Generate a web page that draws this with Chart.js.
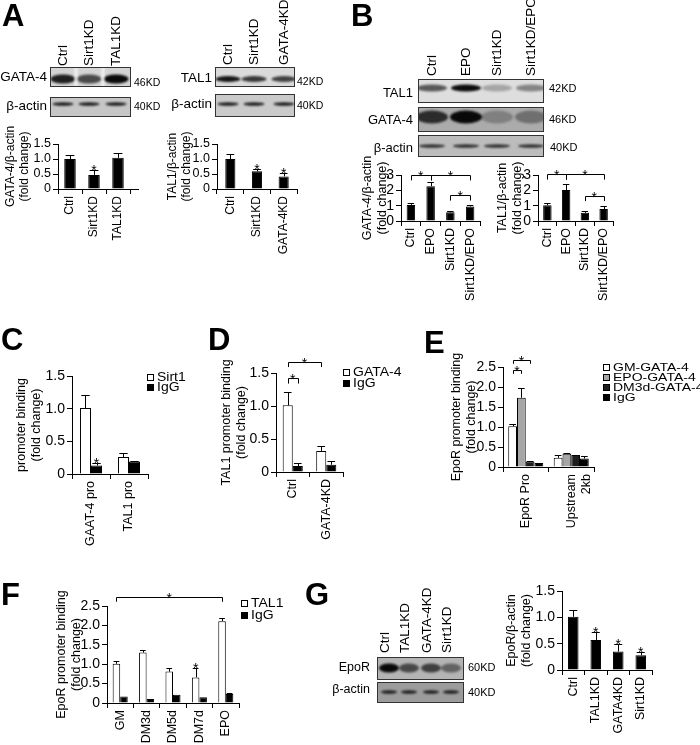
<!DOCTYPE html>
<html>
<head>
<meta charset="utf-8">
<script src="https://cdn.jsdelivr.net/npm/chart.js@4.4.0/dist/chart.umd.min.js"></script>
<style>
  body { margin: 0; background: #fff; }
  #fig { position: relative; width: 700px; height: 745px; overflow: hidden; background: #fff;
         font-family: 'Liberation Sans', Arial, sans-serif; color: #000; }
  #fig canvas { position: absolute; }
  .t { position: absolute; white-space: nowrap; line-height: 1; }
  .letter { position: absolute; font-weight: bold; font-size: 31px; line-height: 1; }
  .v { position: absolute; white-space: nowrap; line-height: 1; transform-origin: 0 0; transform: rotate(-90deg); }
</style>
</head>
<body>
<div id="fig"><canvas id="blots" width="700" height="745" style="left:0;top:0"></canvas></div>
<script>
// ---- data ----
// A
const aLeftCats = ['Ctrl', 'Sirt1KD', 'TAL1KD'];
const aLeftVals = [1.0, 0.47, 1.04];
const aLeftErr = [0.15, 0.17, 0.15];
const aLeftStar = [false, true, false];
const aRightCats = ['Ctrl', 'Sirt1KD', 'GATA-4KD'];
const aRightVals = [1.0, 0.59, 0.42];
const aRightErr = [0.16, 0.09, 0.1];
const aRightStar = [false, true, true];
// B
const bCats = ['Ctrl', 'EPO', 'Sirt1KD', 'Sirt1KD/EPO'];
const bGataVals = [1.05, 2.27, 0.57, 0.95];
const bGataErr = [0.1, 0.27, 0.05, 0.12];
const bTalVals = [1.03, 2.02, 0.53, 0.78];
const bTalErr = [0.12, 0.38, 0.12, 0.19];
// C
const cCats = ['GAAT-4 pro', 'TAL1 pro'];
const cSirt1 = [1.01, 0.26];
const cSirt1Err = [0.2, 0.06];
const cIgG = [0.13, 0.19];
const cIgGErr = [0.04, 0.01];
// D
const dCats = ['Ctrl', 'GATA-4KD'];
const dGata = [1.01, 0.32];
const dGataErr = [0.2, 0.07];
const dIgG = [0.09, 0.11];
const dIgGErr = [0.04, 0.05];
// E
const eCats = ['EpoR Pro', ['Upstream', '2kb']];
const eGM = [1.02, 0.23];
const eGMErr = [0.06, 0.07];
const eEPO = [1.73, 0.33];
const eEPOErr = [0.25, 0.02];
const eDM3d = [0.14, 0.3];
const eDM3dErr = [0.02, 0.0];
const eIgG = [0.1, 0.21];
const eIgGErr = [0.01, 0.07];
// F
const fCats = ['GM', 'DM3d', 'DM5d', 'DM7d', 'EPO'];
const fTal1 = [1.01, 1.3, 0.81, 0.66, 2.11];
const fTal1Err = [0.08, 0.06, 0.1, 0.24, 0.08];
const fIgG = [0.17, 0.1, 0.21, 0.15, 0.23];
const fIgGErr = [0, 0, 0, 0, 0.04];
// G
const gCats = ['Ctrl', 'TAL1KD', 'GATA4KD', 'Sirt1KD'];
const gVals = [1.01, 0.57, 0.35, 0.28];
const gErr = [0.12, 0.15, 0.15, 0.07];
const gStar = [false, true, true, true];

const FONT = "'Liberation Sans', Arial, sans-serif";
Chart.defaults.font.family = FONT;
Chart.defaults.color = '#000';

const fig = document.getElementById('fig');
const px = v => Math.round(v) + 0.5;

// error bars, stars, brackets, side legend
const marks = {
  id: 'marks',
  afterDatasetsDraw(chart, args, opts) {
    const ctx = chart.ctx, ys = chart.scales.y, ca = chart.chartArea;
    ctx.save();
    ctx.strokeStyle = '#000';
    ctx.fillStyle = '#000';
    ctx.lineWidth = 1;
    ctx.font = '14px ' + FONT;
    ctx.textAlign = 'center';
    ctx.textBaseline = 'alphabetic';
    chart.data.datasets.forEach((ds, i) => {
      chart.getDatasetMeta(i).data.forEach((bar, j) => {
        const err = ds.errors ? ds.errors[j] : 0;
        const top = ys.getPixelForValue(ds.data[j] + err);
        if (err > 0) {
          const half = bar.width * 0.38;
          ctx.beginPath();
          ctx.moveTo(px(bar.x), bar.y);
          ctx.lineTo(px(bar.x), px(top));
          ctx.moveTo(bar.x - half, px(top));
          ctx.lineTo(bar.x + half, px(top));
          ctx.stroke();
        }
        if (ds.stars && ds.stars[j]) ctx.fillText('*', bar.x, top + 5);
      });
    });
    (opts.brackets || []).forEach(b => {
      const x1 = chart.getDatasetMeta(b.from[0]).data[b.from[1]].x;
      const x2 = chart.getDatasetMeta(b.to[0]).data[b.to[1]].x;
      const y = px(ys.getPixelForValue(b.y));
      const y2 = ys.getPixelForValue(b.y - b.drop);
      ctx.beginPath();
      ctx.moveTo(px(x1), y2);
      ctx.lineTo(px(x1), y);
      ctx.lineTo(px(x2), y);
      ctx.lineTo(px(x2), y2);
      ctx.stroke();
      ctx.fillText('*', (x1 + x2) / 2, y + 5);
    });
    if (opts.extend) {
      ctx.beginPath();
      ctx.moveTo(ca.right, px(ca.bottom));
      ctx.lineTo(ca.right + opts.extend, px(ca.bottom));
      ctx.stroke();
    }
    const lg = opts.legend;
    if (lg) {
      ctx.textAlign = 'left';
      ctx.textBaseline = 'middle';
      chart.data.datasets.forEach((ds, i) => {
        const x = Math.round(ca.right + lg.dx), y = Math.round(ca.top + lg.dy + i * lg.row);
        ctx.fillStyle = ds.backgroundColor;
        ctx.fillRect(x, y - 3, 7, 7);
        ctx.strokeRect(x + 0.5, y - 2.5, 6, 6);
        ctx.fillStyle = '#000';
        ctx.save();
        ctx.translate(x + 10, y + 1);
        ctx.scale(1, lg.sy || 1);
        ctx.fillText(ds.label, 0, 0);
        ctx.restore();
      });
    }
    ctx.restore();
  }
};
Chart.register(marks);

const fmt1 = v => (v === 0 ? '0' : v.toFixed(1));
const fmt0 = v => String(v);

function barChart(g) {
  const lh = g.titleSize * 1.2;
  const left = Math.round(g.titleX - lh / 2);
  const top = g.area[1] - g.padTop;
  const cv = document.createElement('canvas');
  cv.width = g.area[2] - left + g.padRight;
  cv.height = g.area[3] - top + g.xH;
  cv.style.left = left + 'px';
  cv.style.top = top + 'px';
  fig.appendChild(cv);
  return new Chart(cv, {
    type: 'bar',
    data: { labels: g.labels, datasets: g.datasets },
    options: {
      responsive: false,
      animation: false,
      layout: { padding: { top: g.padTop, right: g.padRight, left: 0, bottom: 0 } },
      datasets: { bar: { categoryPercentage: g.cat, barPercentage: g.bar, borderColor: '#000', borderWidth: 1 } },
      plugins: {
        legend: { display: false },
        tooltip: { enabled: false },
        marks: { brackets: g.brackets, legend: g.legend, extend: g.extend }
      },
      scales: {
        x: {
          grid: { drawOnChartArea: false, color: '#000', tickLength: 5, offset: true },
          border: { color: '#000', width: 1 },
          ticks: { autoSkip: false, minRotation: 90, maxRotation: 90, padding: 2,
                   font: { size: g.labelSize }, color: '#000' },
          afterFit: s => { s.height = g.xH; }
        },
        y: {
          min: 0, max: g.max,
          grid: { drawOnChartArea: false, color: '#000', tickLength: 5 },
          border: { color: '#000', width: 1 },
          ticks: { autoSkip: false, stepSize: g.step, padding: 2, font: { size: g.tickSize || 14 },
                   color: '#000', callback: g.fmt },
          title: { display: true, text: g.title, padding: 0, color: '#000',
                   font: { size: g.titleSize, lineHeight: 1.2 } },
          afterFit: s => { s.width = g.area[0] - left; }
        }
      }
    }
  });
}

const black = (data, errors, stars, label) =>
  ({ label: label || '', data, errors, stars, backgroundColor: '#000' });
const colored = (label, data, errors, color, stars) =>
  ({ label, data, errors, stars, backgroundColor: color });

// A
barChart({ area: [58, 144, 130, 189], padTop: 34, padRight: 15, xH: 70, titleX: 10, titleSize: 12,
  tickSize: 12.5, labelSize: 12, max: 1.5, step: 0.5, fmt: fmt1, cat: 1, bar: 0.48, extend: 9,
  title: ['GATA-4/β-actin', '(fold change)'], labels: aLeftCats,
  datasets: [black(aLeftVals, aLeftErr, aLeftStar)] });
barChart({ area: [217, 144, 297, 189], padTop: 34, padRight: 15, xH: 70, titleX: 172, titleSize: 12,
  tickSize: 12.5, labelSize: 12, max: 1.5, step: 0.5, fmt: fmt1, cat: 1, bar: 0.38,
  title: ['TAL1/β-actin', '(fold change)'], labels: aRightCats,
  datasets: [black(aRightVals, aRightErr, aRightStar)] });
// B
const bBrackets = (hi, lo) => [
  { from: [0, 0], to: [0, 1], y: hi, drop: 0.35 },
  { from: [0, 1], to: [0, 3], y: hi, drop: 0.35 },
  { from: [0, 2], to: [0, 3], y: lo, drop: 0.35 }
];
barChart({ area: [401, 175, 480, 221], padTop: 22, padRight: 15, xH: 85, titleX: 367, titleSize: 12.5,
  labelSize: 12.5, max: 3, step: 1, fmt: fmt0, cat: 1, bar: 0.43,
  title: ['GATA-4/β-actin', '(fold change)'], labels: bCats,
  datasets: [black(bGataVals, bGataErr)], brackets: bBrackets(3.0, 1.68) });
barChart({ area: [538, 175, 613, 221], padTop: 22, padRight: 15, xH: 85, titleX: 502, titleSize: 12.5,
  labelSize: 12.5, max: 3, step: 1, fmt: fmt0, cat: 1, bar: 0.45,
  title: ['TAL1/β-actin', '(fold change)'], labels: bCats,
  datasets: [black(bTalVals, bTalErr)], brackets: bBrackets(3.05, 1.65) });
// C
barChart({ area: [72, 376, 148, 474], padTop: 15, padRight: 50, xH: 80, titleX: 21, titleSize: 12.5,
  labelSize: 12.5, max: 1.5, step: 0.5, fmt: fmt1, cat: 0.58, bar: 1,
  title: ['promoter binding', '(fold change)'], labels: cCats,
  datasets: [colored('Sirt1', cSirt1, cSirt1Err, '#fff'), colored('IgG', cIgG, cIgGErr, '#000', [true, false])],
  legend: { dx: -1, dy: 1, row: 10, sy: 0.85 } });
// D
barChart({ area: [276, 373, 343, 472], padTop: 20, padRight: 70, xH: 80, titleX: 226, titleSize: 12.5,
  labelSize: 12.5, max: 1.5, step: 0.5, fmt: fmt1, cat: 0.6, bar: 1,
  title: ['TAL1 promoter binding', '(fold change)'], labels: dCats,
  datasets: [colored('GATA-4', dGata, dGataErr, '#fff'), colored('IgG', dIgG, dIgGErr, '#000')],
  brackets: [{ from: [0, 0], to: [1, 0], y: 1.42, drop: 0.08 }, { from: [0, 0], to: [0, 1], y: 1.67, drop: 0.08 }],
  legend: { dx: 0, dy: -1, row: 11, sy: 0.85 } });
// E
barChart({ area: [503, 367, 594, 467], padTop: 22, padRight: 110, xH: 80, titleX: 456, titleSize: 12.5,
  labelSize: 12.5, max: 2.5, step: 0.5, fmt: fmt1, cat: 0.77, bar: 1,
  title: ['EpoR promoter binding', '(fold change)'], labels: eCats,
  datasets: [colored('GM-GATA-4', eGM, eGMErr, '#fff'), colored('EPO-GATA-4', eEPO, eEPOErr, '#a6a6a6'),
             colored('DM3d-GATA-4', eDM3d, eDM3dErr, '#1e1e1e'), colored('IgG', eIgG, eIgGErr, '#000')],
  brackets: [{ from: [0, 0], to: [1, 0], y: 2.43, drop: 0.1 }, { from: [0, 0], to: [2, 0], y: 2.68, drop: 0.1 }],
  legend: { dx: 9, dy: 0, row: 10, sy: 0.72 } });
// F
barChart({ area: [107, 606, 239, 703], padTop: 20, padRight: 50, xH: 60, titleX: 61, titleSize: 12.5,
  labelSize: 12.5, max: 2.5, step: 0.5, fmt: fmt1, cat: 0.57, bar: 1,
  title: ['EpoR promoter binding', '(fold change)'], labels: fCats,
  datasets: [colored('TAL1', fTal1, fTal1Err, '#fff', [false, false, false, true, false]),
             colored('IgG', fIgG, fIgGErr, '#000')],
  brackets: [{ from: [0, 0], to: [0, 4], y: 2.73, drop: 0.12 }],
  legend: { dx: 2, dy: -3, row: 12, sy: 0.9 } });
// G
barChart({ area: [562, 591, 652, 670], padTop: 15, padRight: 15, xH: 75, titleX: 511, titleSize: 12.5,
  labelSize: 12.5, max: 1.5, step: 0.5, fmt: fmt1, cat: 1, bar: 0.47,
  title: ['EpoR/β-actin', '(fold change)'], labels: gCats,
  datasets: [black(gVals, gErr, gStar)] });

// ---- western blot images ----
const bctx = document.getElementById('blots').getContext('2d');
function blot(x, y, w, h, bg, lanes, ints, bandY, bandH, bandW, seams) {
  bctx.save();
  bctx.fillStyle = bg;
  bctx.fillRect(x, y, w, h);
  bctx.beginPath();
  bctx.rect(x, y, w, h);
  bctx.clip();
  bctx.filter = 'blur(1.3px)';
  lanes.forEach((lx, i) => {
    bctx.fillStyle = 'rgba(0,0,0,' + ints[i] + ')';
    bctx.beginPath();
    bctx.ellipse(lx, bandY, bandW / 2, bandH / 2, 0, 0, Math.PI * 2);
    bctx.fill();
  });
  (seams || []).forEach(sx => {
    bctx.fillStyle = 'rgba(255,255,255,0.7)';
    bctx.fillRect(sx - 1.5, y, 3, h);
  });
  bctx.restore();
  bctx.strokeStyle = '#333';
  bctx.lineWidth = 1;
  bctx.strokeRect(x + 0.5, y + 0.5, w - 1, h - 1);
}
const laneA1 = [63, 89, 116], laneA2 = [228, 254, 284];
const laneB = [432, 466, 497, 531], laneG = [389, 409, 431, 451];
blot(50, 67, 81, 20, '#d4d4d4', laneA1, [0.85, 0.65, 0.95], 79, 9, 25, [76, 103]);
blot(50, 97, 81, 20, '#c6c6c6', laneA1, [0.85, 0.85, 0.85], 104, 3.5, 21);
blot(215, 67, 80, 20, '#dadada', laneA2, [0.9, 0.75, 0.7], 79, 6, 25);
blot(215, 94, 80, 23, '#cacaca', laneA2, [0.85, 0.85, 0.85], 104, 3.5, 21);
blot(418, 79, 126, 24, '#dedede', laneB, [0.6, 0.95, 0.25, 0.4], 88, 7, 30);
blot(418, 107, 126, 25, '#ababab', laneB, [0.75, 0.95, 0.25, 0.35], 117, 13, 32);
blot(418, 135, 126, 22, '#bcbcbc', laneB, [0.75, 0.75, 0.75, 0.75], 146, 3.5, 26);
blot(377, 657, 87, 23, '#b4b4b4', laneG, [0.95, 0.6, 0.65, 0.45], 668, 9, 20);
blot(377, 682, 87, 21, '#9c9c9c', laneG, [0.8, 0.8, 0.8, 0.8], 692, 3.5, 16);

// ---- text ----
function text(txt, x, yc, size, align, bold) {
  const d = document.createElement('div');
  d.className = 't';
  d.textContent = txt;
  d.style.fontSize = size + 'px';
  d.style.top = (yc - size * 0.5) + 'px';
  if (align === 'right') d.style.right = (700 - x) + 'px'; else d.style.left = x + 'px';
  if (bold) d.style.fontWeight = 'bold';
  fig.appendChild(d);
}
function vtext(txt, cx, bottom, size) {
  const d = document.createElement('div');
  d.className = 'v';
  d.textContent = txt;
  d.style.fontSize = size + 'px';
  d.style.left = (cx - size * 0.49) + 'px';
  d.style.top = bottom + 'px';
  fig.appendChild(d);
}
function letter(ch, x, ytop) {
  const d = document.createElement('div');
  d.className = 'letter';
  d.textContent = ch;
  d.style.left = x + 'px';
  d.style.top = (ytop - 4) + 'px';
  fig.appendChild(d);
}
letter('A', 2, 4); letter('B', 351, 4); letter('C', 1, 328); letter('D', 208, 328);
letter('E', 424, 331); letter('F', 1, 583); letter('G', 305, 583);

// A blots
['Ctrl', 'Sirt1KD', 'TAL1KD'].forEach((s, i) => vtext(s, laneA1[i], 66, 13.5));
['Ctrl', 'Sirt1KD', 'GATA-4KD'].forEach((s, i) => vtext(s, laneA2[i], 65, 13.5));
text('GATA-4', 47, 77, 13.5, 'right'); text('β-actin', 47, 106, 13.5, 'right');
text('46KD', 134, 82, 10.5); text('40KD', 134, 106, 10.5);
text('TAL1', 212, 78, 13.5, 'right'); text('β-actin', 212, 104, 13.5, 'right');
text('42KD', 297, 81, 10.5); text('40KD', 297, 105, 10.5);
// B blot
['Ctrl', 'EPO', 'Sirt1KD', 'Sirt1KD/EPO'].forEach((s, i) => vtext(s, laneB[i], 76, 13.5));
text('TAL1', 413, 92, 13, 'right'); text('GATA-4', 413, 119, 13, 'right'); text('β-actin', 413, 147, 13, 'right');
text('42KD', 549, 88, 11); text('46KD', 549, 119, 11); text('40KD', 550, 147, 11);
// G blot
['Ctrl', 'TAL1KD', 'GATA-4KD', 'Sirt1KD'].forEach((s, i) => vtext(s, laneG[i] - 4, 653, 13.5));
text('EpoR', 370, 667, 12.5, 'right'); text('β-actin', 370, 689, 12.5, 'right');
text('60KD', 468, 667, 11); text('40KD', 468, 692, 11);
</script>
</body>
</html>
